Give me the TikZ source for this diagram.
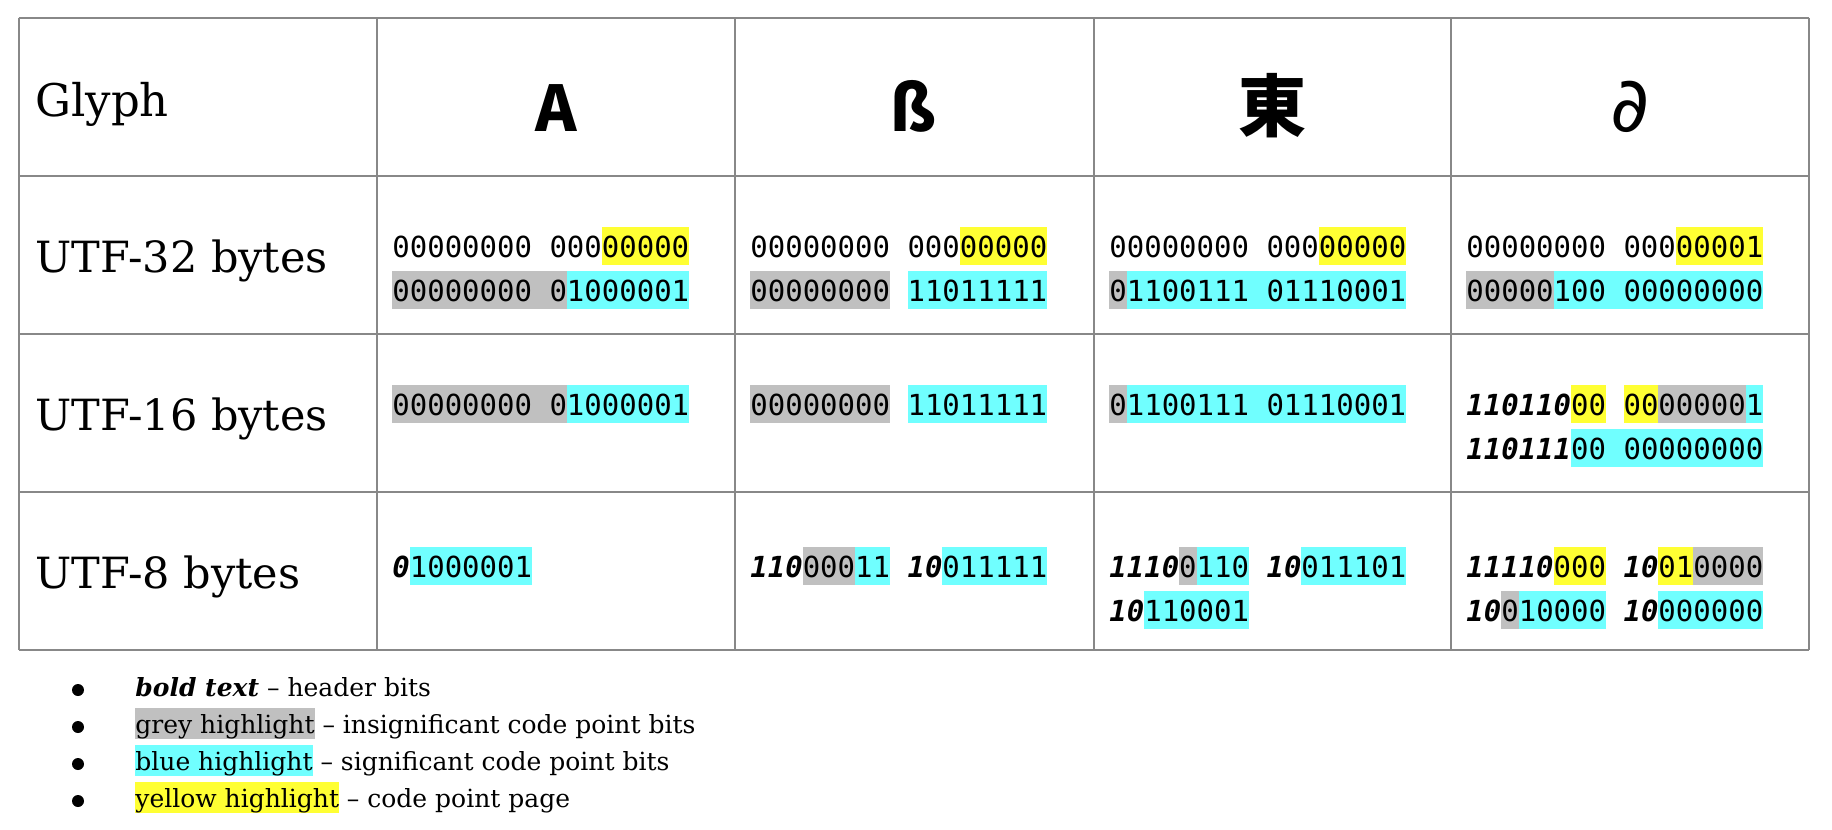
\documentclass[tikz,border=0pt]{standalone}
\usepackage{fontspec}
\setmainfont{DejaVu Serif}
\setmonofont{DejaVu Sans Mono}
\newfontfamily\cjkfont{Noto Sans CJK SC}
\newfontfamily\symfont{DejaVu Sans}

\definecolor{gridgrey}{RGB}{136,136,136}
\definecolor{hlgrey}{RGB}{192,192,192}
\definecolor{hlblue}{RGB}{112,255,255}
\definecolor{hlyellow}{RGB}{255,255,51}

\newcommand{\hlbits}[2]{{\setlength{\fboxsep}{0pt}\colorbox{#1}{\rule[-4pt]{0pt}{19pt}#2}}}
\newcommand{\hlnote}[2]{{\setlength{\fboxsep}{0pt}\colorbox{#1}{\rule[-3pt]{0pt}{15.5pt}#2}}}
\newcommand{\hdrbits}[1]{\textbf{\textit{#1}}}

\begin{document}
\begin{tikzpicture}[x=0.5pt, y=-0.5pt,
    rowlabel/.style={anchor=base west, inner sep=0pt, font=\fontsize{21.5}{26}\selectfont},
    glyph/.style={anchor=base, inner sep=0pt, font=\fontsize{31.5}{36}\selectfont},
    bits/.style={anchor=base west, inner sep=0pt, font=\ttfamily\fontsize{14.5}{22}\selectfont},
    note/.style={anchor=base west, inner sep=0pt, font=\fontsize{12.5}{18}\selectfont},
    bulletdot/.style={circle, fill=black, inner sep=0pt, minimum size=6pt}]
    \useasboundingbox (0,0) rectangle (1832,830);

    % table grid
    \foreach \x in {18.7, 377.4, 734.9, 1093.6, 1451.1, 1808.7}
        \draw[gridgrey, line width=1pt] (\x,17.5) -- (\x,650);
    \foreach \y in {17.5, 176.4, 334.2, 491.9, 650}
        \draw[gridgrey, line width=1pt] (18.7,\y) -- (1808.7,\y);

    % row labels
    \node[rowlabel, font=\fontsize{22.5}{27}\selectfont] (hdr) at (35,116) {Glyph};
    \node[rowlabel] (utf32) at (35,272) {UTF-32 bytes};
    \node[rowlabel] (utf16) at (35,430) {UTF-16 bytes};
    \node[rowlabel] (utf8) at (35,588) {UTF-8 bytes};

    % glyphs
    \node[glyph] (ga) at (556,131) {\cjkfont\bfseries A};
    \node[glyph] (gb) at (914,131) {\cjkfont\bfseries ß};
    \node[glyph, font=\fontsize{34}{40}\selectfont] (gc) at (1272,131) {\cjkfont\bfseries 東};
    \node[glyph, font=\fontsize{38}{44}\selectfont] (gd) at (1630,131) {\symfont ∂};

    % UTF-32
    \node[bits] (u32a1) at (392,257) {00000000 000\hlbits{hlyellow}{00000}};
    \node[bits] (u32a2) at (392,301) {\hlbits{hlgrey}{00000000 0}\hlbits{hlblue}{1000001}};
    \node[bits] (u32b1) at (750,257) {00000000 000\hlbits{hlyellow}{00000}};
    \node[bits] (u32b2) at (750,301) {\hlbits{hlgrey}{00000000} \hlbits{hlblue}{11011111}};
    \node[bits] (u32c1) at (1109,257) {00000000 000\hlbits{hlyellow}{00000}};
    \node[bits] (u32c2) at (1109,301) {\hlbits{hlgrey}{0}\hlbits{hlblue}{1100111 01110001}};
    \node[bits] (u32d1) at (1466,257) {00000000 000\hlbits{hlyellow}{00001}};
    \node[bits] (u32d2) at (1466,301) {\hlbits{hlgrey}{00000}\hlbits{hlblue}{100 00000000}};

    % UTF-16
    \node[bits] (u16a) at (392,415) {\hlbits{hlgrey}{00000000 0}\hlbits{hlblue}{1000001}};
    \node[bits] (u16b) at (750,415) {\hlbits{hlgrey}{00000000} \hlbits{hlblue}{11011111}};
    \node[bits] (u16c) at (1109,415) {\hlbits{hlgrey}{0}\hlbits{hlblue}{1100111 01110001}};
    \node[bits] (u16d1) at (1466,415) {\hdrbits{110110}\hlbits{hlyellow}{00} \hlbits{hlyellow}{00}\hlbits{hlgrey}{00000}\hlbits{hlblue}{1}};
    \node[bits] (u16d2) at (1466,459) {\hdrbits{110111}\hlbits{hlblue}{00 00000000}};

    % UTF-8
    \node[bits] (u8a) at (392,577) {\hdrbits{0}\hlbits{hlblue}{1000001}};
    \node[bits] (u8b) at (750,577) {\hdrbits{110}\hlbits{hlgrey}{000}\hlbits{hlblue}{11} \hdrbits{10}\hlbits{hlblue}{011111}};
    \node[bits] (u8c1) at (1109,577) {\hdrbits{1110}\hlbits{hlgrey}{0}\hlbits{hlblue}{110} \hdrbits{10}\hlbits{hlblue}{011101}};
    \node[bits] (u8c2) at (1109,621) {\hdrbits{10}\hlbits{hlblue}{110001}};
    \node[bits] (u8d1) at (1466,577) {\hdrbits{11110}\hlbits{hlyellow}{000} \hdrbits{10}\hlbits{hlyellow}{01}\hlbits{hlgrey}{0000}};
    \node[bits] (u8d2) at (1466,621) {\hdrbits{10}\hlbits{hlgrey}{0}\hlbits{hlblue}{10000} \hdrbits{10}\hlbits{hlblue}{000000}};

    % legend
    \node[bulletdot] (b1) at (78,690) {};
    \node[bulletdot] (b2) at (78,727) {};
    \node[bulletdot] (b3) at (78,764) {};
    \node[bulletdot] (b4) at (78,801) {};
    \node[note] (n1) at (135,696) {\textbf{\textit{bold text}} – header bits};
    \node[note] (n2) at (135,733) {\hlnote{hlgrey}{grey highlight} – insignificant code point bits};
    \node[note] (n3) at (135,770) {\hlnote{hlblue}{blue highlight} – significant code point bits};
    \node[note] (n4) at (135,807) {\hlnote{hlyellow}{yellow highlight} – code point page};
\end{tikzpicture}
\end{document}
